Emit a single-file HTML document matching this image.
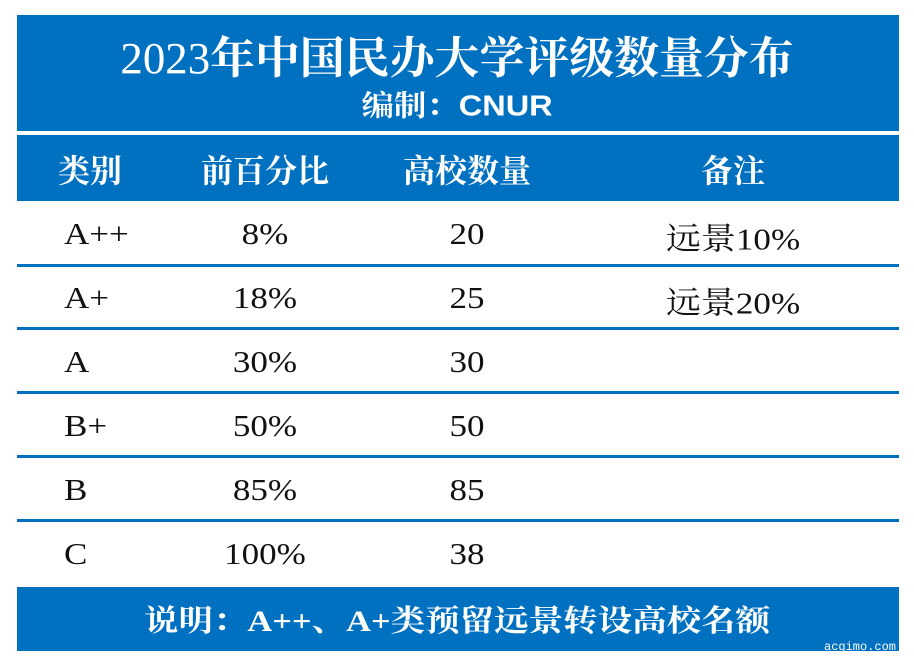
<!DOCTYPE html>
<html><head><meta charset="utf-8"><style>
body{margin:0;width:914px;height:666px;background:#fff;position:relative;overflow:hidden;font-family:"Liberation Serif","Noto Serif CJK SC",serif}
.b{position:absolute;background:#0070C0;left:17px;width:882px}
.t{position:absolute;white-space:nowrap;transform:translate(-50%,-50%) scaleX(1.13)}
.w{color:#fff;font-weight:bold}
.k{color:#111;font-size:31px}
.lf{transform:translateY(-50%) scaleX(1.13);transform-origin:left center}
.l{position:absolute;left:17px;width:882px;height:3px;background:#0070C0}
.h{font-size:32px;transform:translate(-50%,-50%)}
</style></head><body>
<div class="b" style="top:15px;height:116px"></div>
<div class="b" style="top:135px;height:66px"></div>
<div class="b" style="top:587px;height:64px"></div>
<div class="t" style="left:457px;top:54px;color:#fff;font-size:44px;font-weight:bold;transform:translate(-50%,-50%) scaleX(1.02)"><span style="font-weight:normal">2023</span>年中国民办大学评级数量分布</div>
<div class="t w" style="left:457px;top:104px;font-size:29px;font-family:'Liberation Sans','Noto Serif CJK SC',sans-serif;transform:translate(-50%,-50%) scaleX(1.12)">编制：CNUR</div>
<div class="t w h" style="left:90px;top:169px">类别</div>
<div class="t w h" style="left:265px;top:169px">前百分比</div>
<div class="t w h" style="left:467px;top:169px">高校数量</div>
<div class="t w h" style="left:733px;top:169px">备注</div>
<div class="l" style="top:264px"></div><div class="l" style="top:327px"></div><div class="l" style="top:391px"></div><div class="l" style="top:455px"></div><div class="l" style="top:519px"></div>
<div class="t k lf" style="left:64px;top:234px">A++</div>
<div class="t k" style="left:265px;top:234px">8%</div><div class="t k" style="left:467px;top:234px">20</div><div class="t k" style="left:733px;top:236px">远景10%</div>
<div class="t k lf" style="left:64px;top:298px">A+</div>
<div class="t k" style="left:265px;top:298px">18%</div><div class="t k" style="left:467px;top:298px">25</div><div class="t k" style="left:733px;top:300px">远景20%</div>
<div class="t k lf" style="left:64px;top:362px">A</div>
<div class="t k" style="left:265px;top:362px">30%</div><div class="t k" style="left:467px;top:362px">30</div>
<div class="t k lf" style="left:64px;top:426px">B+</div>
<div class="t k" style="left:265px;top:426px">50%</div><div class="t k" style="left:467px;top:426px">50</div>
<div class="t k lf" style="left:64px;top:490px">B</div>
<div class="t k" style="left:265px;top:490px">85%</div><div class="t k" style="left:467px;top:490px">85</div>
<div class="t k lf" style="left:64px;top:554px">C</div>
<div class="t k" style="left:265px;top:554px">100%</div><div class="t k" style="left:467px;top:554px">38</div>
<div class="t w" style="left:457px;top:618px;font-size:30px;transform:translate(-50%,-50%) scaleX(1.15)">说明：A++、A+类预留远景转设高校名额</div>
<div style="position:absolute;left:824px;top:640px;color:#fff;font-size:12px;font-family:'Liberation Mono',monospace">acgimo.com</div>
</body></html>
